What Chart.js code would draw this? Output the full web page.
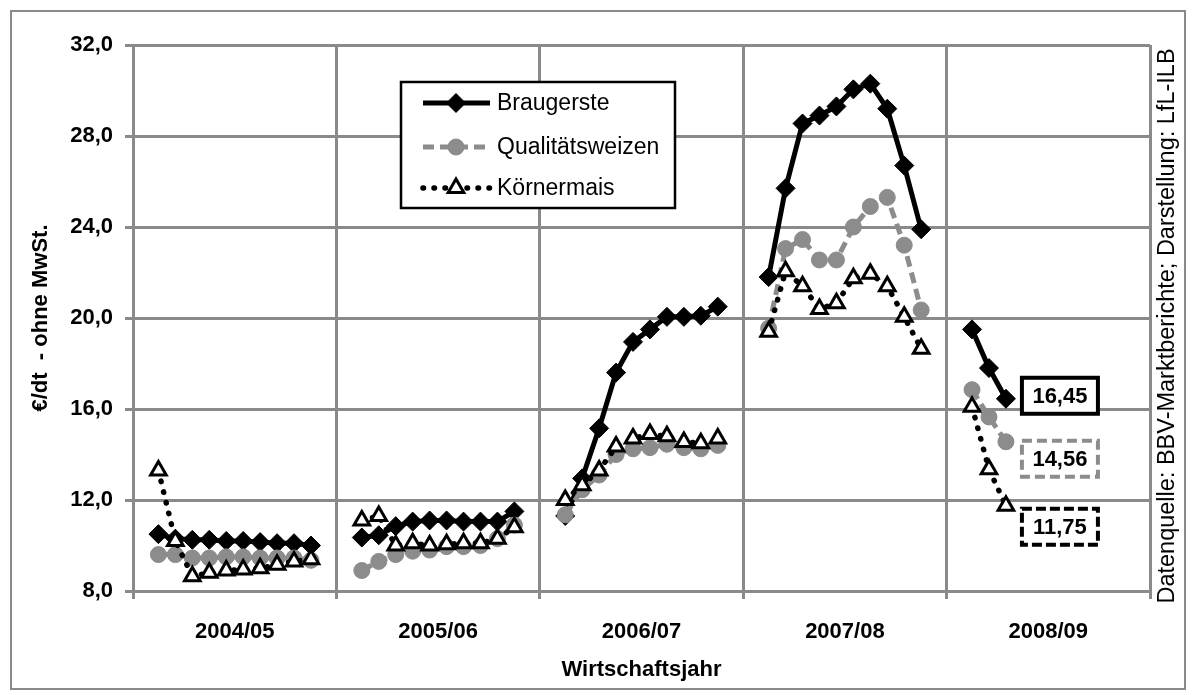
<!DOCTYPE html>
<html lang="de">
<head>
<meta charset="utf-8">
<title>Erzeugerpreise Braugerste, Qualitätsweizen, Körnermais</title>
<script src="https://cdn.jsdelivr.net/npm/chart.js@4.4.1/dist/chart.umd.min.js"></script>
<style>
  html, body { margin: 0; padding: 0; background: #fff; }
  #wrap { width: 1196px; height: 695px; }
</style>
</head>
<body>
<div id="wrap"><canvas id="priceChart" width="1196" height="695"></canvas></div>
<script>
// --- DATA (€/dt ohne MwSt., monthly, Wirtschaftsjahr Jul..Jun) ---
const years  = ['2004/05', '2005/06', '2006/07', '2007/08', '2008/09'];
const months = ['Jul', 'Aug', 'Sep', 'Okt', 'Nov', 'Dez', 'Jan', 'Feb', 'Mär', 'Apr', 'Mai', 'Jun'];

const braugerste = [
  null, 10.5, 10.3, 10.25, 10.25, 10.2, 10.2, 10.15, 10.1, 10.1, 10.0, null,
  null, 10.35, 10.45, 10.85, 11.05, 11.1, 11.1, 11.05, 11.05, 11.05, 11.5, null,
  null, 11.3, 12.95, 15.15, 17.6, 18.95, 19.5, 20.05, 20.05, 20.1, 20.5, null,
  null, 21.8, 25.7, 28.55, 28.9, 29.3, 30.05, 30.3, 29.2, 26.7, 23.9, null,
  null, 19.5, 17.8, 16.45, null, null, null, null, null, null, null, null
];
const qualitaetsweizen = [
  null, 9.6, 9.6, 9.45, 9.45, 9.5, 9.5, 9.45, 9.45, 9.45, 9.35, null,
  null, 8.9, 9.3, 9.6, 9.75, 9.8, 9.95, 9.95, 10.0, 10.3, 10.9, null,
  null, 11.35, 12.45, 13.1, 14.0, 14.25, 14.3, 14.45, 14.3, 14.25, 14.4, null,
  null, 19.55, 23.05, 23.45, 22.55, 22.55, 24.0, 24.9, 25.3, 23.2, 20.35, null,
  null, 16.85, 15.65, 14.56, null, null, null, null, null, null, null, null
];
const koernermais = [
  null, 13.3, 10.2, 8.65, 8.8, 8.9, 8.95, 9.0, 9.15, 9.3, 9.4, null,
  null, 11.1, 11.3, 10.0, 10.1, 10.0, 10.05, 10.1, 10.1, 10.3, 10.8, null,
  null, 12.0, 12.65, 13.3, 14.35, 14.7, 14.9, 14.8, 14.55, 14.5, 14.7, null,
  null, 19.4, 22.05, 21.4, 20.4, 20.65, 21.75, 21.95, 21.4, 20.05, 18.65, null,
  null, 16.1, 13.35, 11.75, null, null, null, null, null, null, null, null
];

const yTicks = [8, 12, 16, 20, 24, 28, 32];
const monthCategories = years.flatMap(y => months.map(m => y + ' ' + m));

// --- STYLE ---
const FONT = "'Liberation Sans', Arial, sans-serif";
const GRID = '#8a8a8a';
const GREY = '#8c8c8c';
const fmt = (v, d) => v.toFixed(d).replace('.', ',');

Chart.defaults.font.family = FONT;
Chart.defaults.color = '#000';

// small marker painter for the legend (same shapes as chart points)
const drawMarker = (ctx, ds, x, y) => {
  ctx.save();
  ctx.fillStyle = ds.pointBackgroundColor;
  ctx.strokeStyle = ds.pointBorderColor;
  ctx.lineWidth = ds.pointBorderWidth;
  ctx.setLineDash([]);
  if (Chart.helpers && Chart.helpers.drawPoint) {
    Chart.helpers.drawPoint(ctx, { pointStyle: ds.pointStyle, radius: ds.pointRadius, rotation: 0, borderWidth: ds.pointBorderWidth }, x, y);
  } else {
    ctx.beginPath();
    ctx.arc(x, y, ds.pointRadius, 0, Math.PI * 2);
    ctx.fill();
    ctx.stroke();
  }
  ctx.restore();
};

// frame + background + source note
const framePlugin = {
  id: 'frame',
  beforeDraw(chart) {
    const { ctx, width, height } = chart;
    ctx.save();
    ctx.fillStyle = '#fff';
    ctx.fillRect(0, 0, width, height);
    ctx.strokeStyle = GRID;
    ctx.lineWidth = 2;
    ctx.strokeRect(11, 11, width - 22, height - 17);
    ctx.restore();
  },
  afterDraw(chart) {
    const { ctx } = chart;
    ctx.save();
    ctx.translate(1168, 326);
    ctx.rotate(-Math.PI / 2);
    ctx.font = '23.5px ' + FONT;
    ctx.fillStyle = '#000';
    ctx.textAlign = 'center';
    ctx.textBaseline = 'middle';
    ctx.fillText('Datenquelle: BBV-Marktberichte; Darstellung: LfL-ILB', 0, 0);
    ctx.restore();
  }
};

// legend box inside the plot
const boxLegend = {
  id: 'boxLegend',
  afterDraw(chart) {
    const { ctx } = chart;
    const L = 401, T = 82, W = 274, H = 126;
    ctx.save();
    ctx.fillStyle = '#fff';
    ctx.fillRect(L, T, W, H);
    ctx.strokeStyle = '#000';
    ctx.lineWidth = 2.5;
    ctx.setLineDash([]);
    ctx.strokeRect(L, T, W, H);
    const rows = [103, 147, 188];
    chart.data.datasets.forEach((ds, i) => {
      const y = rows[i];
      ctx.save();
      ctx.strokeStyle = ds.borderColor;
      ctx.lineWidth = ds.borderWidth;
      ctx.lineCap = ds.borderCapStyle || 'butt';
      ctx.setLineDash(ds.borderDash || []);
      ctx.beginPath();
      ctx.moveTo(423, y);
      ctx.lineTo(490, y);
      ctx.stroke();
      ctx.restore();
      drawMarker(ctx, ds, 456, y);
      ctx.fillStyle = '#000';
      ctx.font = '23px ' + FONT;
      ctx.textAlign = 'left';
      ctx.textBaseline = 'middle';
      ctx.fillText(ds.label, 497, y + 1);
    });
    ctx.restore();
  }
};

// boxed value of the latest month of each series
const lastValueBoxes = {
  id: 'lastValueBoxes',
  afterDatasetsDraw(chart, args, opts) {
    const { ctx } = chart;
    chart.data.datasets.forEach((ds, i) => {
      const meta = chart.getDatasetMeta(i);
      let idx = ds.data.length - 1;
      while (idx >= 0 && ds.data[idx] == null) idx--;
      if (idx < 0) return;
      const pt = meta.data[idx];
      const st = opts.styles[i];
      const cx = pt.x + 54, cy = pt.y + st.dy;
      const w = 76, h = 36;
      ctx.save();
      ctx.fillStyle = '#fff';
      ctx.fillRect(cx - w / 2, cy - h / 2, w, h);
      ctx.strokeStyle = st.color;
      ctx.lineWidth = 4;
      ctx.setLineDash(st.dash);
      ctx.strokeRect(cx - w / 2, cy - h / 2, w, h);
      ctx.setLineDash([]);
      ctx.fillStyle = '#000';
      ctx.font = 'bold 22px ' + FONT;
      ctx.textAlign = 'center';
      ctx.textBaseline = 'middle';
      ctx.fillText(fmt(ds.data[idx], 2), cx, cy + 1);
      ctx.restore();
    });
  }
};

const datasets = [
  {
    label: 'Braugerste', data: braugerste, order: 3,
    borderColor: '#000', borderWidth: 5,
    pointStyle: 'rectRot', pointRadius: 9.5, pointBackgroundColor: '#000', pointBorderColor: '#000', pointBorderWidth: 1
  },
  {
    label: 'Qualitätsweizen', data: qualitaetsweizen, order: 2,
    borderColor: GREY, borderWidth: 5, borderDash: [11, 6],
    pointStyle: 'circle', pointRadius: 8, pointBackgroundColor: GREY, pointBorderColor: GREY, pointBorderWidth: 1
  },
  {
    label: 'Körnermais', data: koernermais, order: 1,
    borderColor: '#000', borderWidth: 5.5, borderDash: [0.5, 10.5], borderCapStyle: 'round',
    pointStyle: 'triangle', pointRadius: 9, pointBackgroundColor: '#fff', pointBorderColor: '#000', pointBorderWidth: 3
  }
];

new Chart(document.getElementById('priceChart'), {
  type: 'line',
  data: { labels: monthCategories, datasets },
  options: {
    responsive: false,
    animation: false,
    devicePixelRatio: 1,
    spanGaps: false,
    elements: { line: { tension: 0 }, point: { hoverRadius: 9 } },
    layout: { padding: { top: 45, right: 46, left: 0, bottom: 0 } },
    plugins: {
      legend: { display: false },
      tooltip: { enabled: false },
      lastValueBoxes: {
        styles: [
          { dy: -3, color: '#000', dash: [] },
          { dy: 17, color: GREY, dash: [10, 5] },
          { dy: 21, color: '#000', dash: [10, 4] }
        ]
      }
    },
    scales: {
      x: { type: 'category', display: false, offset: true },
      years: {
        type: 'category', labels: years, position: 'bottom', offset: true,
        grid: { offset: true, color: GRID, lineWidth: 3, tickLength: 8, tickColor: GRID, tickWidth: 3 },
        border: { color: GRID, width: 3 },
        ticks: { font: { size: 22, weight: 'bold' }, color: '#000', padding: 20, maxRotation: 0, autoSkip: false },
        title: { display: true, text: 'Wirtschaftsjahr', font: { size: 22, weight: 'bold' }, color: '#000', padding: { top: 0, bottom: 12 } },
        afterFit: s => { s.height = 104; }
      },
      y: {
        min: 8, max: 32,
        afterBuildTicks: s => { s.ticks = yTicks.map(v => ({ value: v })); },
        grid: { color: GRID, lineWidth: 3, tickLength: 8, tickColor: GRID, tickWidth: 3 },
        border: { color: GRID, width: 3 },
        ticks: { callback: v => fmt(v, 1), font: { size: 22, weight: 'bold' }, color: '#000', padding: 12 },
        title: { display: true, text: '€/dt  - ohne MwSt.', font: { size: 22, weight: 'bold' }, color: '#000', padding: { top: 28, bottom: 0 } },
        afterFit: s => { s.width = 133; }
      }
    }
  },
  plugins: [framePlugin, lastValueBoxes, boxLegend]
});
</script>
</body>
</html>
